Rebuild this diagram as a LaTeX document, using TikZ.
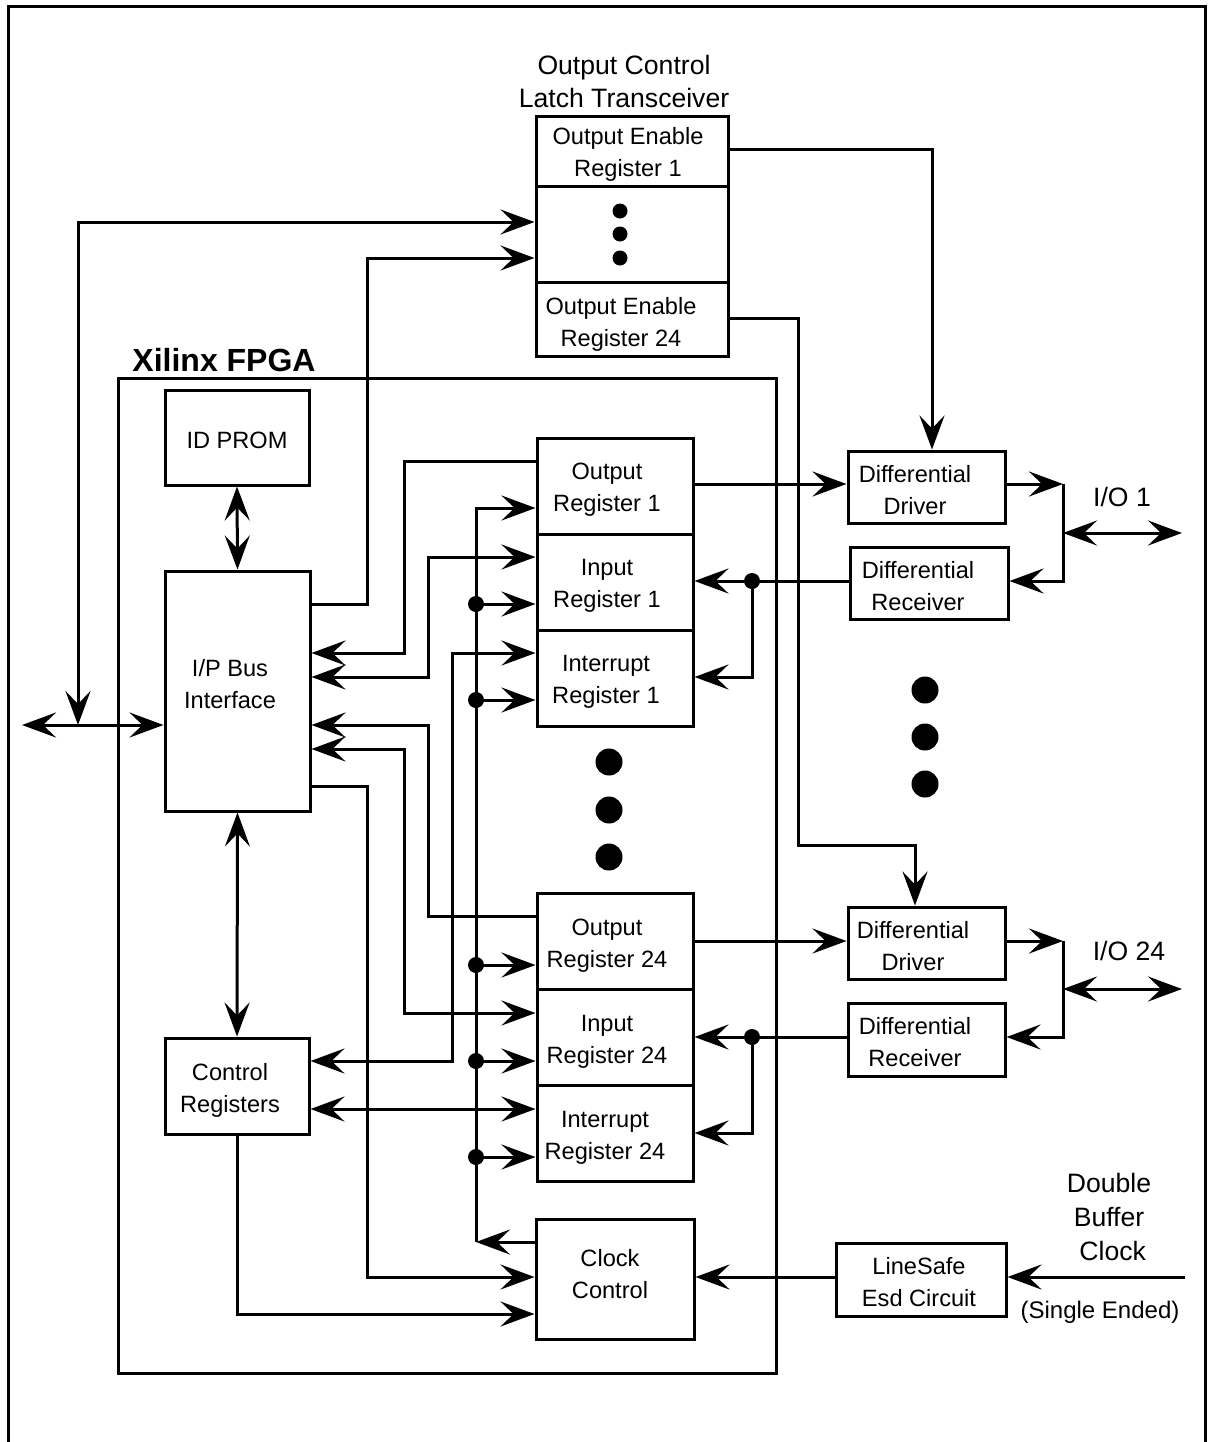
\documentclass[tikz,border=0pt]{standalone}
\usepackage{fontspec}
\setmainfont{Liberation Sans}
\usetikzlibrary{arrows.meta,fit}
\newcommand\diafont{\fontsize{11.8pt}{16pt}\selectfont}
\newcommand\bigdiafont{\fontsize{13.3pt}{17pt}\selectfont}
\begin{document}
\begin{tikzpicture}[x=0.5pt,y=-0.5pt,line width=1.5pt,
  >={Stealth[length=17pt,width=12.5pt,inset=6.5pt]},
  box/.style={draw,line width=1.5pt,inner sep=0pt},
  txt/.style={align=center,inner sep=0pt,font=\diafont},
  bigtxt/.style={align=center,inner sep=0pt,font=\bigdiafont},
  dotbig/.style={fill=black,draw=none,circle,minimum size=13.5pt,inner sep=0pt},
  dotsmall/.style={fill=black,draw=none,circle,minimum size=7.5pt,inner sep=0pt},
  jdot/.style={fill=black,draw=none,circle,minimum size=8pt,inner sep=0pt}]
\useasboundingbox (0,0) rectangle (1213,1442);
% outer frame
\draw (8,1442) -- (8,6) -- (1205,6) -- (1205,1442);

% Output control latch transceiver
\node[bigtxt,font=\fontsize{13.3pt}{16.5pt}\selectfont] (oetitle) at (624,81) {Output Control\\Latch Transceiver};
\node[box,fit={(536,116)(728,186)}] (oe1) {};
\node[box,fit={(536,186)(728,282)}] (oedots) {};
\node[box,fit={(536,282)(728,356)}] (oe24) {};
\node[txt] (oe1t) at (628,154) {Output Enable\\Register 1};
\node[txt] (oe24t) at (621,324) {Output Enable\\Register 24};
\node[dotsmall] (od1) at (620,211) {};
\node[dotsmall] (od2) at (620,234) {};
\node[dotsmall] (od3) at (620,258) {};

% FPGA
\node[box,fit={(118,378)(776,1373)}] (fpga) {};
\node[inner sep=0pt,font=\fontsize{16pt}{19pt}\selectfont\bfseries] (fpgat) at (224,360) {Xilinx FPGA};

\node[box,fit={(165,390)(309,485)}] (idprom) {};
\node[txt] (idpromt) at (237,440) {ID PROM};
\node[box,fit={(165,571)(310,811)}] (ipbus) {};
\node[txt] (ipbust) at (230,684) {I/P Bus\\Interface};
\node[box,fit={(165,1038)(309,1134)}] (ctrl) {};
\node[txt] (ctrlt) at (230,1090) {Control\\Registers};

\node[box,fit={(537,438)(693,534)}] (oreg1) {};
\node[box,fit={(537,534)(693,630)}] (ireg1) {};
\node[box,fit={(537,630)(693,726)}] (intreg1) {};
\node[txt] (oreg1t) at (607,490) {Output\\Register 1};
\node[txt] (ireg1t) at (607,586) {Input\\Register 1};
\node[txt] (intreg1t) at (606,682) {Interrupt\\Register 1};

\node[dotbig] (md1) at (609,762) {};
\node[dotbig] (md2) at (609,810) {};
\node[dotbig] (md3) at (609,857) {};

\node[box,fit={(537,893)(693,989)}] (oreg24) {};
\node[box,fit={(537,989)(693,1085)}] (ireg24) {};
\node[box,fit={(537,1085)(693,1181)}] (intreg24) {};
\node[txt] (oreg24t) at (607,946) {Output\\Register 24};
\node[txt] (ireg24t) at (607,1042) {Input\\Register 24};
\node[txt] (intreg24t) at (605,1138) {Interrupt\\Register 24};

\node[box,fit={(536,1219)(694,1339)}] (clk) {};
\node[txt] (clkt) at (610,1274) {Clock\\Control};

% right side blocks
\node[box,fit={(848,451)(1005,523)}] (drv1) {};
\node[txt] (drv1t) at (915,490) {Differential\\Driver};
\node[box,fit={(850,547)(1008,619)}] (rcv1) {};
\node[txt] (rcv1t) at (918,586) {Differential\\Receiver};
\node[bigtxt] (io1) at (1122,497) {I/O 1};

\node[dotbig] (rd1) at (925,690) {};
\node[dotbig] (rd2) at (925,737) {};
\node[dotbig] (rd3) at (925,784) {};

\node[box,fit={(848,907)(1005,979)}] (drv24) {};
\node[txt] (drv24t) at (913,946) {Differential\\Driver};
\node[box,fit={(848,1003)(1005,1076)}] (rcv24) {};
\node[txt] (rcv24t) at (915,1042) {Differential\\Receiver};
\node[bigtxt] (io24) at (1129,951) {I/O 24};

\node[box,fit={(836,1243)(1006,1316)}] (linesafe) {};
\node[txt] (linesafet) at (919,1282) {LineSafe\\Esd Circuit};
\node[bigtxt] (dbc) at (1109,1217) {Double\\Buffer\\\ Clock};
\node[txt,font=\fontsize{12pt}{14pt}\selectfont] (single) at (1100,1312) {(Single Ended)};

% coordinates
\coordinate (busL) at (22,725);
\coordinate (busJ) at (78,725);
\coordinate (cj) at (476,1242);
\coordinate (dbin) at (1185,1277);
\coordinate (io1r) at (1182,533);
\coordinate (io1l) at (1063,533);
\coordinate (io24r) at (1182,989);
\coordinate (io24l) at (1063,989);
\coordinate (sw1) at (1063,484);
\coordinate (sw24) at (1063,941);

% external bus
\draw[<->] (busL) -- (ipbus.west |- busL);
\draw[<->] (oedots.west |- 0,222) -| (busJ);
\draw[->] (ipbus.east |- 0,604) -- (367,604) |- (oedots.west |- 0,258);

% OE register outputs
\draw[->] (oe1.east |- 0,149) -| (drv1.north -| 932,0);
\draw[->] (oe24.east |- 0,318) -- (798,318) -- (798,845) -| (drv24.north -| 915,0);

% ID PROM / control registers
\draw[<->] (idprom.south) -- (ipbus.north);
\draw[<->] (ipbus.south) -- (ctrl.north);

% IP bus <-> registers
\draw[->] (oreg1.west |- 0,461) -- (404,461) |- (ipbus.east |- 0,653);
\draw[<->] (ipbus.east |- 0,677) -| (428,557) -- (ireg1.west |- 0,557);
\draw[<->] (ctrl.east |- 0,1061) -| (452,653) -- (intreg1.west |- 0,653);
\draw[->] (oreg24.west |- 0,916) -- (428,916) |- (ipbus.east |- 0,725);
\draw[<->] (ipbus.east |- 0,749) -| (404,1013) -- (ireg24.west |- 0,1013);
\draw[<->] (ctrl.east |- 0,1109) -- (intreg24.west |- 0,1109);
\draw[->] (ipbus.east |- 0,786) -| (367,1277) -- (clk.west |- 0,1277);
\draw[->] (ctrl.south) |- (clk.west |- 0,1314);

% clock distribution
\draw[->] (clk.west |- cj) -- (cj);
\draw[->] (cj) -- (476,508) -- (oreg1.west |- 0,508);
\foreach \yy/\tgt in {604/ireg1,700/intreg1,965/oreg24,1061/ireg24,1157/intreg24}{
  \node[jdot] (cd\yy) at (476,\yy) {};
  \draw[->] (cd\yy.center) -- (\tgt.west |- cd\yy.center);
}

% channel 1
\draw[->] (oreg1.east |- 0,484) -- (drv1.west |- 0,484);
\draw[->] (drv1.east |- sw1) -- (sw1);
\draw[->] (sw1) |- (rcv1.east |- 0,581);
\draw[<->] (io1l) -- (io1r);
\node[jdot] (rj1) at (752,581) {};
\draw[->] (rcv1.west |- rj1) -- (ireg1.east |- rj1);
\draw[->] (rj1.center) |- (intreg1.east |- 0,677);

% channel 24
\draw[->] (oreg24.east |- 0,941) -- (drv24.west |- 0,941);
\draw[->] (drv24.east |- sw24) -- (sw24);
\draw[->] (sw24) |- (rcv24.east |- 0,1037);
\draw[<->] (io24l) -- (io24r);
\node[jdot] (rj24) at (752,1037) {};
\draw[->] (rcv24.west |- rj24) -- (ireg24.east |- rj24);
\draw[->] (rj24.center) |- (intreg24.east |- 0,1133);

% clock input
\draw[->] (dbin) -- (linesafe.east |- dbin);
\draw[->] (linesafe.west |- dbin) -- (clk.east |- dbin);
\end{tikzpicture}
\end{document}
